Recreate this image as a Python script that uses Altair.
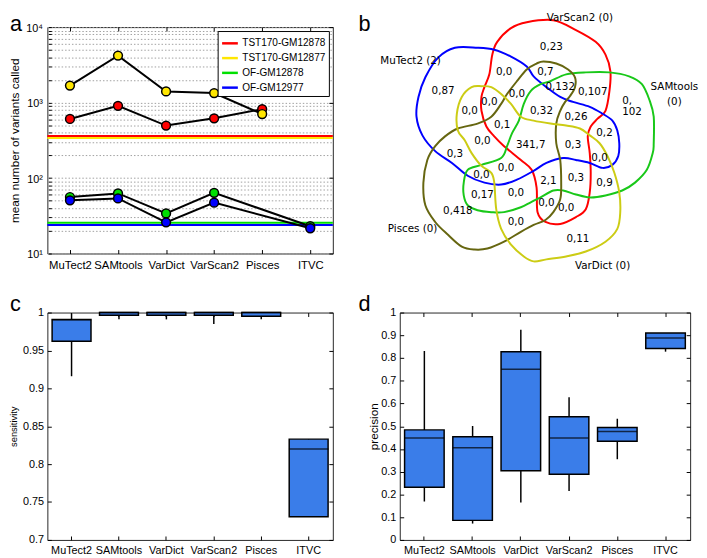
import altair as alt
import pandas as pd

FONT = "Liberation Sans"
VFONT = "DejaVu Sans"

tools = ["MuTect2", "SAMtools", "VarDict", "VarScan2", "Pisces", "ITVC"]

# ---------------- panel a ----------------
series_names = ["TST170-GM12878", "TST170-GM12877", "OF-GM12878", "OF-GM12977"]
series_colors = ["#ff0000", "#ffe600", "#00e000", "#0000ff"]
tst170_gm12878 = [606, 905, 496, 618, 818, None]
tst170_gm12877 = [1680, 4190, 1405, 1337, 705, None]
of_gm12878 = [56, 62.5, 34, 63.7, None, 23.0]
of_gm12977 = [50.6, 53.7, 25.9, 47.2, None, 21.6]
reference_levels = [360, 340, 25.6, 23.9]
log_ticks = [10, 20, 30, 40, 50, 60, 70, 80, 90,
             100, 200, 300, 400, 500, 600, 700, 800, 900,
             1000, 2000, 3000, 4000, 5000, 6000, 7000, 8000, 9000, 10000]
log_major = [10, 100, 1000, 10000]

rows = []
for s, vals in zip(series_names, [tst170_gm12878, tst170_gm12877, of_gm12878, of_gm12977]):
    for i, (t, v) in enumerate(zip(tools, vals)):
        rows.append({"series": s, "tool": t, "idx": i, "count": v})
df_a = pd.DataFrame(rows)
df_ref = pd.DataFrame({"series": series_names, "level": reference_levels})

color_scale = alt.Scale(domain=series_names, range=series_colors)
xa_scale = alt.Scale(type="point", padding=0.47)
xa_axis = alt.Axis(title=None, labelAngle=0, domain=False, offset=-4, tickSize=4,
                   labelPadding=6, labelFontSize=11.5, labelFont=FONT,
                   labelColor="black", tickColor="black", grid=False)
xa_top = alt.Axis(title=None, orient="top", labels=False, domain=False, offset=-4, tickSize=4,
                  tickColor="black", grid=False)
ya_scale = alt.Scale(type="log", domain=[10, 10000], nice=False)
ya_axis = alt.Axis(title="mean number of variants called", values=log_ticks,
                   labelExpr="datum.value == 10 ? '10¹' : datum.value == 100 ? '10²' : datum.value == 1000 ? '10³' : datum.value == 10000 ? '10⁴' : ''",
                   domain=False, offset=-4, tickSize=3, labelPadding=6, labelOffset=1.5,
                   minExtent=28, maxExtent=28,
                   titlePadding=2, grid=True, gridDash=[1.5, 2], gridColor="#a0a0a0",
                   titleFontSize=12, titleFont=FONT, titleFontWeight="normal", titleColor="black",
                   labelFontSize=11, labelFont=FONT, labelColor="black", tickColor="black")
ya_right = alt.Axis(title=None, orient="right", values=log_major, labels=False, domain=False,
                    offset=-4, tickSize=4, tickColor="black", grid=False)

rules_a = alt.Chart(df_ref).mark_rule(strokeWidth=2).encode(
    y=alt.Y("level:Q", scale=ya_scale, axis=ya_axis),
    color=alt.Color("series:N", scale=color_scale,
                    legend=alt.Legend(title=None, orient="top-right", offset=4, symbolType="stroke",
                                      symbolSize=256, symbolStrokeWidth=2.5, labelFontSize=10.2,
                                      labelFont=FONT, labelColor="black", padding=3,
                                      strokeColor="black", fillColor="white", rowPadding=-3,
                                      labelOffset=3, cornerRadius=0)),
)
lines_a = alt.Chart(df_a).transform_filter("isValid(datum.count)").mark_line(
    color="black", strokeWidth=2).encode(
    x=alt.X("tool:N", sort=tools, scale=xa_scale, axis=xa_axis),
    y=alt.Y("count:Q", scale=ya_scale, axis=None),
    detail="series:N", order=alt.Order("idx:Q"))
points_a = alt.Chart(df_a).transform_filter("isValid(datum.count)").mark_circle(
    size=80, stroke="black", strokeWidth=1.5, opacity=1, fillOpacity=1).encode(
    x=alt.X("tool:N", sort=tools, scale=xa_scale, axis=xa_top),
    y=alt.Y("count:Q", scale=ya_scale, axis=ya_right),
    fill=alt.Fill("series:N", scale=color_scale, legend=None))
letter_a = alt.Chart(pd.DataFrame({"t": ["a"]})).mark_text(
    fontSize=22, font=FONT, align="left", baseline="top", color="black").encode(
    text="t:N", x=alt.value(-38), y=alt.value(-13))
panel_a = alt.layer(rules_a, lines_a, points_a, letter_a).resolve_axis(
    x="independent", y="independent").properties(width=290, height=230)

# ---------------- panel b (Venn) ----------------
set_names = ["VarScan2", "MuTect2", "SAMtools", "Pisces", "VarDict"]
set_colors = ["#ff0000", "#0000ff", "#19c819", "#666610", "#cccc14"]
varscan2_x = [560, 583, 603, 613, 618, 617, 613, 605, 598, 595, 597, 598, 597, 593, 583, 567, 552, 544, 543, 538, 527, 510, 500, 492, 487, 487, 490, 495, 498, 503, 517, 533]
varscan2_y = [15, 25, 37, 50, 67, 87, 107, 115, 123, 133, 150, 170, 190, 207, 215, 222, 220, 210, 185, 167, 157, 143, 133, 123, 107, 93, 83, 70, 50, 37, 23, 17]
mutect2_x = [460, 483, 500, 517, 533, 540, 553, 567, 580, 597, 610, 620, 625, 627, 626, 620, 610, 597, 583, 570, 553, 540, 523, 507, 490, 473, 457, 440, 427, 421, 423, 430, 443]
mutect2_y = [43, 43, 45, 52, 62, 72, 83, 93, 98, 103, 110, 117, 127, 140, 153, 162, 165, 160, 157, 155, 160, 168, 177, 182, 180, 173, 160, 148, 132, 113, 93, 73, 53]
samtools_x = [557, 573, 593, 617, 637, 650, 658, 662, 662, 661, 655, 643, 630, 613, 597, 583, 570, 560, 547, 537, 527, 510, 497, 483, 473, 469, 469, 473, 487, 507, 513, 518, 525, 530, 537, 547]
samtools_y = [77, 70, 68, 68, 72, 80, 97, 113, 140, 150, 167, 180, 188, 193, 195, 192, 188, 188, 195, 200, 205, 210, 210, 208, 203, 193, 180, 167, 162, 155, 143, 130, 117, 100, 87, 80]
pisces_x = [543, 550, 563, 575, 582, 582, 577, 572, 567, 563, 563, 567, 568, 567, 560, 552, 540, 527, 510, 493, 480, 467, 453, 440, 430, 428, 432, 440, 450, 463, 483, 497, 507, 513, 523, 533]
pisces_y = [59, 57, 59, 65, 73, 83, 92, 98, 107, 120, 140, 157, 180, 197, 210, 218, 223, 230, 240, 247, 248, 245, 233, 220, 203, 180, 157, 143, 133, 125, 120, 113, 100, 90, 77, 65]
vardict_x = [487, 497, 507, 517, 527, 540, 557, 573, 587, 597, 607, 615, 622, 627, 628, 625, 613, 593, 573, 553, 540, 530, 517, 507, 502, 500, 497, 487, 477, 470, 463, 462, 467, 477]
vardict_y = [82, 83, 90, 100, 113, 117, 120, 122, 125, 132, 140, 153, 170, 190, 210, 227, 240, 250, 255, 258, 260, 255, 243, 227, 207, 180, 170, 163, 150, 137, 127, 110, 93, 83]

crows = []
for name, xs, ys in zip(set_names,
                        [varscan2_x, mutect2_x, samtools_x, pisces_x, vardict_x],
                        [varscan2_y, mutect2_y, samtools_y, pisces_y, vardict_y]):
    for i, (x, y) in enumerate(zip(xs, ys)):
        crows.append({"set": name, "idx": i, "x": x, "y": y})
df_curves = pd.DataFrame(crows)

venn_text = ["VarScan2 (0)", "MuTect2 (2)", "SAMtools", "(0)", "Pisces (0)", "VarDict (0)",
             "0,23", "0,0", "0,7", "0,132", "0,107", "0,", "102", "0,87", "0,0", "0,0", "0,0",
             "0,32", "0,26", "0,1", "0,2", "0,3", "0,0", "341,7", "0,3", "0,0", "0,0", "0,0",
             "2,1", "0,3", "0,9", "0,17", "0,0", "0,0", "0,0", "0,418", "0,0", "0,11"]
venn_x = [587, 415, 683, 683, 417, 610,
          558, 510, 552, 567, 600, 635, 640, 448, 475, 495, 523,
          548, 583, 508, 612, 460, 488, 537, 580, 607, 487, 512,
          555, 583, 612, 488, 522, 553, 573, 463, 522, 585]
venn_y = [13, 56, 83, 98, 227, 265,
          42, 68, 68, 83, 88, 97, 108, 87, 107, 98, 90,
          107, 113, 122, 130, 151, 138, 142, 142, 155, 172, 165,
          178, 175, 180, 193, 191, 201, 206, 209, 220, 237]
df_vtext = pd.DataFrame({"label": venn_text, "x": venn_x, "y": venn_y})

vx = alt.X("x:Q", scale=alt.Scale(domain=[404, 699], nice=False, zero=False), axis=None)
vy = alt.Y("y:Q", scale=alt.Scale(domain=[22, 252], nice=False, zero=False, reverse=True), axis=None)
curves_b = alt.Chart(df_curves).mark_line(interpolate="cardinal-closed", strokeWidth=2).encode(
    x=vx, y=vy, detail="set:N", order=alt.Order("idx:Q"),
    color=alt.Color("set:N", scale=alt.Scale(domain=set_names, range=set_colors), legend=None))
text_b = alt.Chart(df_vtext).mark_text(font=VFONT, fontSize=10.5, color="black").encode(
    x=vx, y=vy, text="label:N")
letter_b = alt.Chart(pd.DataFrame({"t": ["b"]})).mark_text(
    fontSize=22, font=FONT, align="left", baseline="top", color="black").encode(
    text="t:N", x=alt.value(-42), y=alt.value(-13))
panel_b = alt.layer(curves_b, text_b, letter_b).properties(
    width=295, height=230, view=alt.ViewBackground(stroke="transparent"))

# ---------------- panels c and d (box plots) ----------------
sens_lo = [0.916, 0.991, 0.991, 0.985, 0.991, 0.7305]
sens_q1 = [0.962, 0.9965, 0.9965, 0.9965, 0.995, 0.7305]
sens_med = [0.990, 1.0, 1.0, 1.0, 1.0, 0.820]
sens_q3 = [0.991, 1.0, 1.0, 1.0, 1.0, 0.833]
sens_hi = [0.999, 1.0, 1.0, 1.0, 1.0, 0.833]
sens_ticks = [0.7, 0.75, 0.8, 0.85, 0.9, 0.95, 1.0]

prec_lo = [0.169, 0.072, 0.165, 0.215, 0.355, 0.828]
prec_q1 = [0.232, 0.086, 0.304, 0.289, 0.434, 0.842]
prec_med = [0.448, 0.405, 0.751, 0.448, 0.477, 0.888]
prec_q3 = [0.484, 0.454, 0.828, 0.542, 0.494, 0.910]
prec_hi = [0.831, 0.501, 0.924, 0.628, 0.533, 0.910]
prec_ticks = [0.0, 0.1, 0.2, 0.3, 0.4, 0.5, 0.6, 0.7, 0.8, 0.9, 1.0]

BOX_BLUE = "#3a7de9"


def box_panel(lo, q1, med, q3, hi, ticks, domain, fmt, title, title_size, extent, letter, lx, w, h):
    df = pd.DataFrame({"tool": tools, "lo": lo, "q1": q1, "med": med, "q3": q3, "hi": hi})
    xsc = alt.Scale(type="band", paddingInner=0.18, paddingOuter=0.1)
    xax = alt.Axis(title=None, labelAngle=0, domain=False, offset=-4, tickSize=4,
                   labelPadding=5, labelFontSize=11, labelFont=FONT, labelColor="black",
                   tickColor="black", grid=False)
    xtop = alt.Axis(title=None, orient="top", labels=False, domain=False, offset=-4, tickSize=4,
                    tickColor="black", grid=False)
    ysc = alt.Scale(domain=domain, nice=False, zero=False)
    yax = alt.Axis(title=title, values=ticks, format=fmt, domain=False, offset=-4, tickSize=4,
                   labelPadding=4, minExtent=extent, maxExtent=extent, titlePadding=2, grid=False,
                   titleFontSize=title_size, titleFont=FONT, titleFontWeight="normal",
                   titleColor="black", labelFontSize=11, labelFont=FONT, labelColor="black",
                   tickColor="black")
    yright = alt.Axis(title=None, orient="right", values=ticks, labels=False, domain=False,
                      offset=-4, tickSize=4, tickColor="black", grid=False)
    whisk = alt.Chart(df).mark_rule(color="black", strokeWidth=1.5).encode(
        x=alt.X("tool:N", sort=tools, scale=xsc, axis=xax),
        y=alt.Y("lo:Q", scale=ysc, axis=yax), y2="hi:Q")
    box = alt.Chart(df).mark_bar(color=BOX_BLUE, stroke="black", strokeWidth=1.5).encode(
        x=alt.X("tool:N", sort=tools, scale=xsc, axis=None),
        y=alt.Y("q1:Q", scale=ysc, axis=None), y2="q3:Q")
    median = alt.Chart(df).mark_tick(color="black", size=40, thickness=1.5).encode(
        x=alt.X("tool:N", sort=tools, scale=xsc, axis=xtop),
        y=alt.Y("med:Q", scale=ysc, axis=yright))
    let = alt.Chart(pd.DataFrame({"t": [letter]})).mark_text(
        fontSize=22, font=FONT, align="left", baseline="alphabetic", color="black").encode(
        text="t:N", x=alt.value(lx), y=alt.value(-2))
    return alt.layer(whisk, box, median, let).resolve_axis(
        x="independent", y="independent").properties(width=w, height=h)


panel_c = box_panel(sens_lo, sens_q1, sens_med, sens_q3, sens_hi, sens_ticks, [0.7, 1.0],
                    ".2~f", "sensitivity", 9.5, 31, "c", -38, 290, 231)
panel_d = box_panel(prec_lo, prec_q1, prec_med, prec_q3, prec_hi, prec_ticks, [0.0, 1.0],
                    ".1~f", "precision", 12, 22, "d", -42, 295, 231)

chart = alt.concat(panel_a, panel_b, panel_c, panel_d, columns=2,
                   spacing={"row": 60, "column": 68}, bounds="flush", align="each").resolve_scale(
    color="independent", fill="independent", x="independent", y="independent").resolve_legend(
    color="independent").properties(padding=0).configure_view(stroke="#262626", strokeWidth=1)

chart.save("out.html", embed_options={"renderer": "svg", "actions": False})
